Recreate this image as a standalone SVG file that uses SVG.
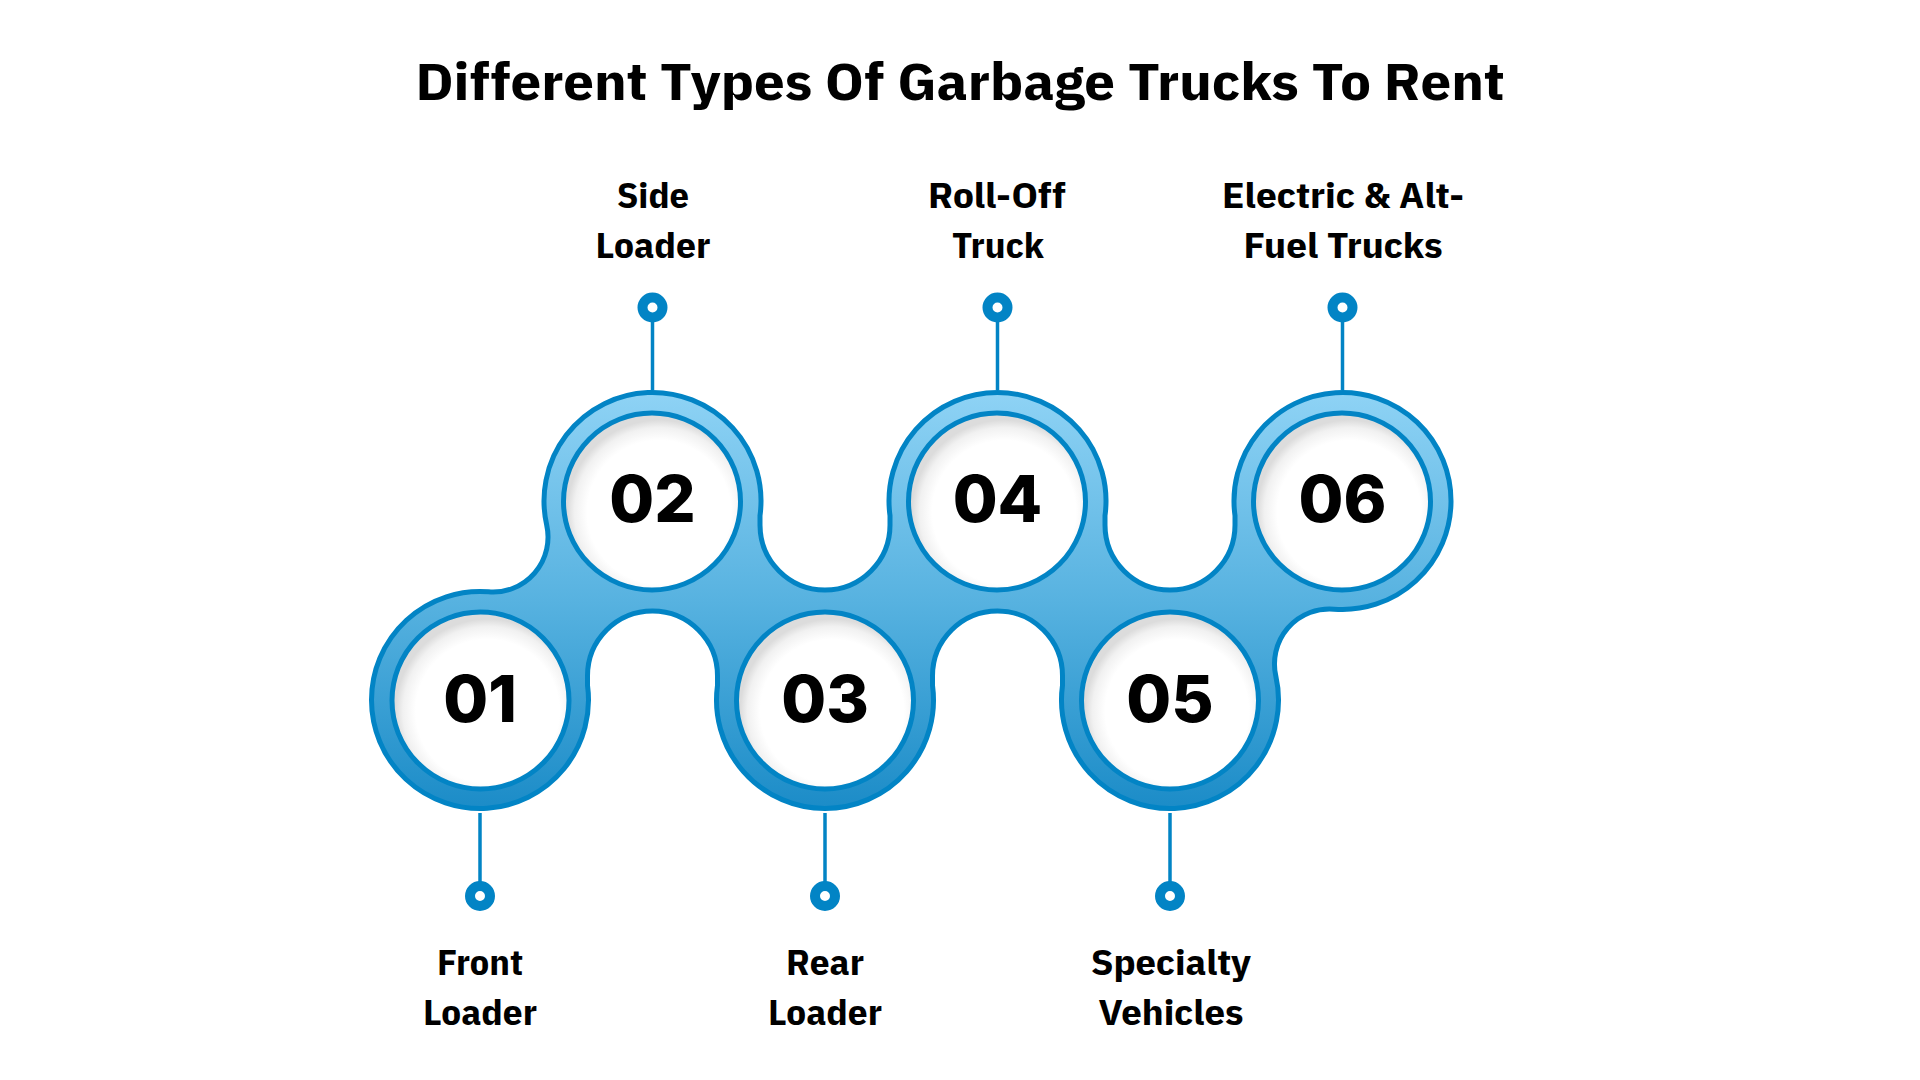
<svg xmlns="http://www.w3.org/2000/svg" width="1920" height="1080" viewBox="0 0 1920 1080">
  <defs>
    <linearGradient id="bandGrad" gradientUnits="userSpaceOnUse" x1="0" y1="390" x2="0" y2="813">
      <stop offset="0" stop-color="#8FD3F5"/>
      <stop offset="0.5" stop-color="#57B2E0"/>
      <stop offset="1" stop-color="#1A8BC7"/>
    </linearGradient>
    <radialGradient id="whiteGrad" cx="0.54" cy="0.56" r="0.52">
      <stop offset="0" stop-color="#FFFFFF"/>
      <stop offset="0.78" stop-color="#FFFFFF"/>
      <stop offset="0.92" stop-color="#F1F1F1"/>
      <stop offset="1" stop-color="#DCDCDC"/>
    </radialGradient>
    <marker id="dot" viewBox="-16 -16 32 32" markerWidth="32" markerHeight="32" refX="0" refY="0" markerUnits="userSpaceOnUse" orient="0">
      <circle cx="0" cy="0" r="10" fill="#FFFFFF" stroke="#0284C5" stroke-width="10"/>
    </marker>
  </defs>
  <style>
    .title { font-family: "IBM Plex Sans Condensed", "Liberation Sans Narrow", "DejaVu Sans Condensed", Roboto, sans-serif; font-weight: 700; font-size: 52px; fill: #000000; }
    .label { font-family: "IBM Plex Sans Condensed", "Liberation Sans Narrow", "DejaVu Sans Condensed", Roboto, sans-serif; font-weight: 700; font-size: 36px; fill: #000000; text-anchor: middle; }
    .num { font-family: Inter, "Open Sans", "DejaVu Sans", sans-serif; font-weight: 800; font-size: 65px; fill: #000000; text-anchor: middle; }
    .band { fill: url(#bandGrad); stroke: #0284C5; stroke-width: 5; }
    .inner { fill: url(#whiteGrad); stroke: #0284C5; stroke-width: 5; }
    .conn { stroke: #0284C5; stroke-width: 3.5; fill: none; marker-end: url(#dot); }
  </style>
  <rect x="0" y="0" width="1920" height="1080" fill="#FFFFFF"/>

  <text class="title" x="960" y="100" text-anchor="middle" textLength="1089" lengthAdjust="spacingAndGlyphs">Different Types Of Garbage Trucks To Rent</text>

  <g id="connectors">
    <line class="conn" x1="480" y1="813" x2="480" y2="896"/>
    <line class="conn" x1="652.5" y1="390" x2="652.5" y2="307.5"/>
    <line class="conn" x1="825" y1="813" x2="825" y2="896"/>
    <line class="conn" x1="997.5" y1="390" x2="997.5" y2="307.5"/>
    <line class="conn" x1="1170" y1="813" x2="1170" y2="896"/>
    <line class="conn" x1="1342.5" y1="390" x2="1342.5" y2="307.5"/>
  </g>

  <g id="band">
    <path class="band" d="M 371.5 700 A 108.5 108.5 0 0 1 488.64 591.84 A 55 55 0 0 0 546.67 524.90 A 108.5 108.5 0 1 1 760 515.70 L 760 525 A 65 65 0 0 0 825 590 A 65 65 0 0 0 890 525 L 890 515.70 A 108.5 108.5 0 1 1 1105 515.70 L 1105 525 A 65 65 0 0 0 1170 590 A 65 65 0 0 0 1235 525 L 1235 515.70 A 108.5 108.5 0 1 1 1333.86 609.16 A 55 55 0 0 0 1275.83 676.10 A 108.5 108.5 0 1 1 1062.5 685.30 L 1062.5 676 A 65 65 0 0 0 997.5 611 A 65 65 0 0 0 932.5 676 L 932.5 685.30 A 108.5 108.5 0 1 1 717.5 685.30 L 717.5 676 A 65 65 0 0 0 652.5 611 A 65 65 0 0 0 587.5 676 L 587.5 685.30 A 108.5 108.5 0 1 1 371.5 700 Z"/>
  </g>

  <g id="node-01">
    <circle class="inner" cx="480.5" cy="700.5" r="88.5"/>
    <text class="num" x="480" y="722">01</text>
    <text class="label" x="480" y="975" textLength="86" lengthAdjust="spacingAndGlyphs">Front</text>
    <text class="label" x="480" y="1025" textLength="114" lengthAdjust="spacingAndGlyphs">Loader</text>
  </g>

  <g id="node-02">
    <circle class="inner" cx="652" cy="501.5" r="88.5"/>
    <text class="num" x="652.5" y="522">02</text>
    <text class="label" x="653" y="208" textLength="72" lengthAdjust="spacingAndGlyphs">Side</text>
    <text class="label" x="653" y="258" textLength="115" lengthAdjust="spacingAndGlyphs">Loader</text>
  </g>

  <g id="node-03">
    <circle class="inner" cx="825" cy="700.5" r="88.5"/>
    <text class="num" x="825" y="722">03</text>
    <text class="label" x="825" y="975" textLength="78" lengthAdjust="spacingAndGlyphs">Rear</text>
    <text class="label" x="825" y="1025" textLength="114" lengthAdjust="spacingAndGlyphs">Loader</text>
  </g>

  <g id="node-04">
    <circle class="inner" cx="997" cy="501.5" r="88.5"/>
    <text class="num" x="997.5" y="522">04</text>
    <text class="label" x="997" y="208" textLength="138" lengthAdjust="spacingAndGlyphs">Roll-Off</text>
    <text class="label" x="998" y="258" textLength="92" lengthAdjust="spacingAndGlyphs">Truck</text>
  </g>

  <g id="node-05">
    <circle class="inner" cx="1170" cy="700.5" r="88.5"/>
    <text class="num" x="1170" y="722">05</text>
    <text class="label" x="1171" y="975" textLength="160" lengthAdjust="spacingAndGlyphs">Specialty</text>
    <text class="label" x="1171" y="1025" textLength="145" lengthAdjust="spacingAndGlyphs">Vehicles</text>
  </g>

  <g id="node-06">
    <circle class="inner" cx="1342" cy="501.5" r="88.5"/>
    <text class="num" x="1342.5" y="522">06</text>
    <text class="label" x="1343" y="208" textLength="242" lengthAdjust="spacingAndGlyphs">Electric &amp; Alt-</text>
    <text class="label" x="1343" y="258" textLength="199" lengthAdjust="spacingAndGlyphs">Fuel Trucks</text>
  </g>
</svg>
